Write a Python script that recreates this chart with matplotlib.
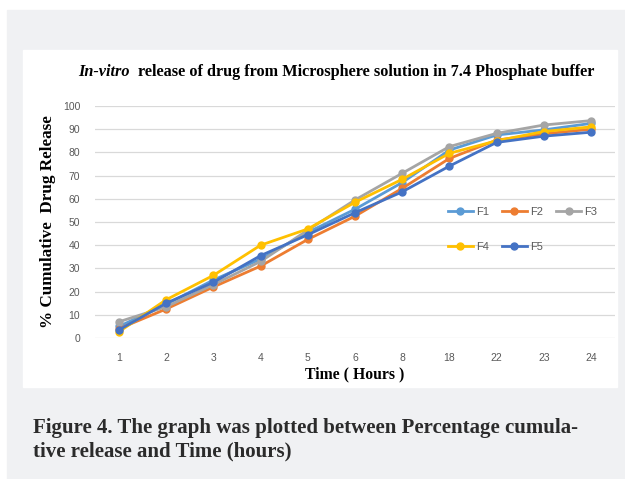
import matplotlib.pyplot as plt
from matplotlib.patches import Rectangle

# Zeitpunkte und Freisetzungswerte (%)
hours = ['1', '2', '3', '4', '5', '6', '8', '18', '22', '23', '24']
f1 = [5, 14.5, 25, 34, 45.5, 55.5, 67, 81, 87.5, 89.7, 92.5]
f2 = [4, 12.5, 22, 31, 42.5, 52.5, 64.5, 77.4, 85.3, 88, 90]
f3 = [7, 13.5, 23, 33, 46.5, 59.5, 71, 82.5, 88.2, 91.8, 93.7]
f4 = [2.7, 16.5, 27, 40, 47, 58.5, 68.4, 79.6, 85, 89, 91]
f5 = [3.5, 15, 24, 35.5, 44.5, 54, 63, 74.1, 84.3, 87, 88.7]
labels = ['F1', 'F2', 'F3', 'F4', 'F5']
colors = ['#5B9BD5', '#ED7D31', '#A5A5A5', '#FFC000', '#4472C4']

W, H = 625, 479
fig = plt.figure(figsize=(W / 100, H / 100), dpi=100)
fig.patch.set_facecolor('white')

# grauer Hintergrund und weisses Diagrammfeld
fig.patches.append(Rectangle((7 / W, 0), (W - 7) / W, (H - 10) / H,
                             transform=fig.transFigure, color='#f0f1f3', zorder=-10))
fig.patches.append(Rectangle((23 / W, (H - 387) / H), (617 - 23) / W, (387 - 50) / H,
                             transform=fig.transFigure, color='white', zorder=-9))

ax = fig.add_axes([95.4 / W, (H - 338) / H, (614.6 - 95.4) / W, 232 / H])
ax.set_facecolor('none')
x = range(len(hours))
lines = []
for vals, lab, col in zip([f1, f2, f3, f4, f5], labels, colors):
    lines += ax.plot(x, vals, color=col, lw=2, marker='o', ms=5, label=lab)

ax.set_xlim(-0.5, len(hours) - 0.5)
ax.set_ylim(0, 100)
ax.set_yticks(range(0, 101, 10))
ax.set_xticks(list(x))
ax.set_xticklabels(hours)
ax.grid(axis='y', color='#d9d9d9', lw=0.9)
ax.set_axisbelow(True)
for s in ax.spines.values():
    s.set_visible(False)
ax.tick_params(length=0, labelsize=7.5, labelcolor='#595959', pad=11)
for t in ax.get_xticklabels() + ax.get_yticklabels():
    t.set_fontfamily('Liberation Sans')

ax.set_xlabel('Time ( Hours )', family='Liberation Serif', weight='bold',
              fontsize=11.3, labelpad=2)
ax.set_ylabel('% Cumulative  Drug Release', family='Liberation Serif', weight='bold',
              fontsize=12.3, labelpad=5)

t1 = fig.text(78 / W, 1 - 72 / H, 'In-vitro', family='Liberation Serif', weight='bold',
              style='italic', fontsize=11.7, va='center')
fig.canvas.draw()
bb = t1.get_window_extent()
fig.text((bb.x1 + 8) / W, 1 - 72 / H,
         'release of drug from Microsphere solution in 7.4 Phosphate buffer',
         family='Liberation Serif', weight='bold', fontsize=11.7, va='center')

# Reihenfolge so, dass die Legende zeilenweise F1 F2 F3 / F4 F5 zeigt
order = [0, 3, 1, 4, 2]
leg = ax.legend([lines[i] for i in order], [labels[i] for i in order],
                ncol=3, loc='center left', bbox_to_anchor=(0.66, 0.468), frameon=False,
                labelspacing=2.2, handlelength=2.2, columnspacing=1.2,
                handletextpad=0.3, prop={'family': 'Liberation Sans', 'size': 8})
for t in leg.get_texts():
    t.set_color('#595959')

fig.text(33 / W, 1 - 428 / H,
         'Figure 4. The graph was plotted between Percentage cumula-',
         family='Liberation Serif', weight='bold', fontsize=15, color='#2b2b2b',
         va='center')
fig.text(33 / W, 1 - 451 / H, 'tive release and Time (hours)',
         family='Liberation Serif', weight='bold', fontsize=15, color='#2b2b2b',
         va='center')

fig.savefig('out.png', dpi=100)
